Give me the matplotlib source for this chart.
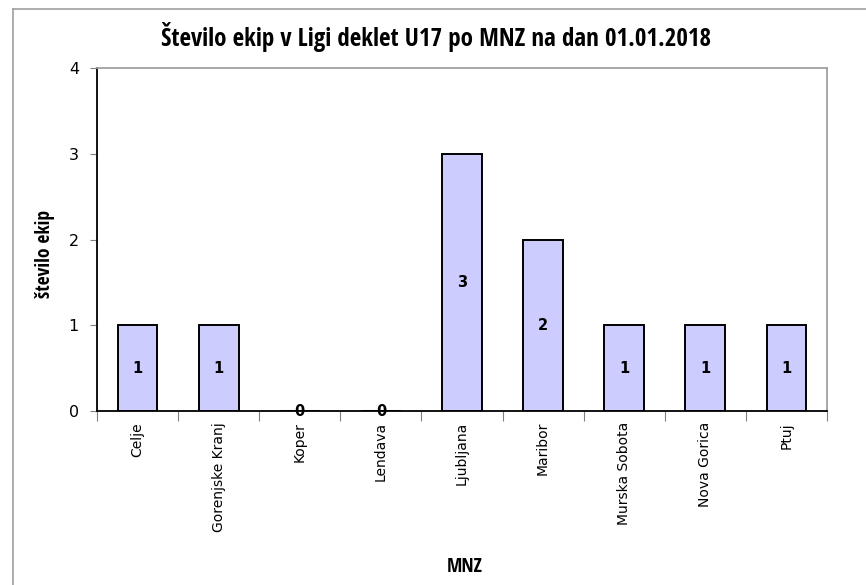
import matplotlib
matplotlib.use('Agg')
import matplotlib.pyplot as plt
from matplotlib import font_manager
from matplotlib.lines import Line2D

# data
categories = ["Celje", "Gorenjske Kranj", "Koper", "Lendava", "Ljubljana",
              "Maribor", "Murska Sobota", "Nova Gorica", "Ptuj"]
teams = [1, 1, 0, 0, 3, 2, 1, 1, 1]
title = "Število ekip v Ligi deklet U17 po MNZ na dan 01.01.2018"

plt.rcParams['font.family'] = ['DejaVu Sans']

# pick a narrow font for the Calibri-like texts
installed = {f.name for f in font_manager.fontManager.ttflist}
narrow = "DejaVu Sans"
for name in ["Liberation Sans Narrow", "Open Sans Condensed", "Roboto Condensed",
             "DejaVu Sans Condensed", "Liberation Sans"]:
    if name in installed:
        narrow = name
        break

fig = plt.figure(figsize=(8.66, 5.85), dpi=100)
ax = fig.add_axes([97/866, 1 - 411/585, 730/866, 343/585])

x = list(range(len(categories)))
ax.bar(x, teams, width=0.49, color="#CCCCFF", edgecolor="black", linewidth=1.4, zorder=3)

for xi, v in zip(x, teams):
    ax.text(xi, v / 2, str(v), ha="center", va="center", fontsize=10.5,
            fontweight="bold", family="DejaVu Sans", zorder=4)

ax.set_xlim(-0.5, len(categories) - 0.5)
ax.set_ylim(0, 4)
ax.set_yticks([0, 1, 2, 3, 4])
ax.tick_params(axis="y", labelsize=11.5, length=5, color="#808080", pad=8)

ax.set_xticks([i - 0.5 for i in range(len(categories) + 1)])
ax.set_xticklabels([])
ax.set_xticks(x, minor=True)
ax.set_xticklabels(categories, minor=True, rotation=90, fontsize=10)
ax.tick_params(axis="x", which="major", length=7, color="#808080")
ax.tick_params(axis="x", which="minor", length=0, pad=8)

for s in ["left", "bottom"]:
    ax.spines[s].set_color("black")
    ax.spines[s].set_linewidth(1.3)
for s in ["top", "right"]:
    ax.spines[s].set_color("#A0A0A0")
    ax.spines[s].set_linewidth(1.3)

fig.text(436/866, 1 - 37/585, title, ha="center", va="center", fontsize=18,
         fontweight="bold", family=narrow)
fig.text(45/866, 1 - 254/585, "število ekip", ha="center", va="center", rotation=90,
         fontsize=14, fontweight="bold", family=narrow)
fig.text(465/866, 1 - 567/585, "MNZ", ha="center", va="center", fontsize=14,
         fontweight="bold", family=narrow)

# outer chart border (left and top visible)
fig.add_artist(Line2D([13/866, 13/866], [0, 1 - 9/585], transform=fig.transFigure,
                      color="#A0A0A0", linewidth=1.2))
fig.add_artist(Line2D([13/866, 1], [1 - 9/585, 1 - 9/585], transform=fig.transFigure,
                      color="#A0A0A0", linewidth=1.2))

fig.savefig("out.png", dpi=100)
